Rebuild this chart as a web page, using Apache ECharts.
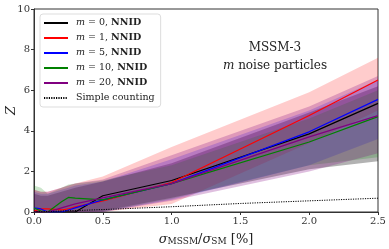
<!DOCTYPE html>
<html><head><meta charset="utf-8">
<script src="https://cdn.jsdelivr.net/npm/echarts@6/dist/echarts.min.js"></script>
<style>html,body{margin:0;padding:0;background:#fff}#c{width:389px;height:249px}</style>
</head><body><div id="c"></div>
<script>
// sigma_MSSM / sigma_SM [%]
const xs = [0, 0.05, 0.1, 0.2, 0.25, 0.3, 0.5, 1.0, 2.0, 2.5];
// central Z values
const zM0  = [0.05, 0.0, 0.0, 0.0, 0.0, 0.0, 0.8, 1.55, 3.85, 5.35];
const zM1  = [0.05, 0.15, 0.15, 0.1, 0.15, 0.25, 0.55, 1.45, 4.75, 6.5];
const zM5  = [0.2, 0.15, 0.0, 0.0, 0.1, 0.2, 0.6, 1.4, 3.95, 5.55];
const zM10 = [0.2, 0.05, 0.0, 0.5, 0.72, 0.68, 0.6, 1.4, 3.45, 4.7];
const zM20 = [0.0, 0.0, 0.0, 0.2, 0.3, 0.4, 0.7, 1.4, 3.7, 4.75];
// uncertainty bands
const loM0  = [0, 0, 0, 0, 0, 0, 0.05, 0.7, 2.1, 2.5];
const hiM0  = [0.9, 0.8, 0.8, 1.0, 1.1, 1.2, 1.5, 2.4, 4.9, 6.2];
const loM1  = [0, 0, 0, 0, 0, 0, 0, 0.4, 3.4, 5.0];
const hiM1  = [1.1, 1.0, 1.0, 1.2, 1.3, 1.4, 1.75, 3.2, 5.9, 7.6];
const loM5  = [0, 0, 0, 0, 0, 0, 0, 0.6, 2.3, 3.6];
const hiM5  = [1.0, 0.9, 0.9, 1.1, 1.2, 1.3, 1.5, 2.6, 5.0, 6.5];
const loM10 = [0, 0, 0, 0, 0, 0, 0, 0.65, 2.3, 2.7];
const hiM10 = [1.3, 1.2, 0.9, 1.2, 1.35, 1.4, 1.55, 2.3, 4.6, 6.0];
const loM20 = [0, 0, 0, 0, 0, 0, 0, 0.55, 2.0, 2.9];
const hiM20 = [1.1, 1.0, 1.0, 1.2, 1.3, 1.4, 1.6, 2.8, 5.2, 6.7];
// simple counting
const xsSimple = [0, 0.5, 1.0, 1.5, 2.0, 2.5];
const zSimple  = [0.0, 0.12, 0.26, 0.42, 0.55, 0.68];
const xTicks = ['0.0','0.5','1.0','1.5','2.0','2.5'];

const names = ['m = 0','m = 1','m = 5','m = 10','m = 20'];
const colors = ['#000000','#ff0000','#0000ff','#008000','#800080'];
const fills = ['rgba(0,0,0,0.3)','rgba(255,0,0,0.2)','rgba(0,0,255,0.2)','rgba(0,128,0,0.2)','rgba(128,0,128,0.25)'];
const mids = [zM0,zM1,zM5,zM10,zM20];
const los = [loM0,loM1,loM5,loM10,loM20];
const his = [hiM0,hiM1,hiM5,hiM10,hiM20];
const FONT = 'DejaVu Serif';

const series = [];
for (let k = 0; k < 5; k++) {
  const lo = los[k], hi = his[k];
  series.push({
    type: 'custom', silent: true, z: 1,
    data: xs.map((x,i) => [x, lo[i], hi[i]]),
    renderItem: function (params, api) {
      if (params.dataIndex !== 0) return null;
      const pts = [];
      for (let i = 0; i < xs.length; i++) pts.push(api.coord([xs[i], hi[i]]));
      for (let i = xs.length - 1; i >= 0; i--) pts.push(api.coord([xs[i], lo[i]]));
      return {type: 'polygon', shape: {points: pts}, style: {fill: fills[k]}};
    }
  });
}
for (let k = 0; k < 5; k++) {
  series.push({
    name: names[k], type: 'line', symbol: 'none', z: 5,
    data: xs.map((x,i) => [x, mids[k][i]]),
    lineStyle: {color: colors[k], width: 1.2}, itemStyle: {color: colors[k]}
  });
}
series.push({
  name: 'Simple counting', type: 'line', symbol: 'none', z: 5,
  data: xsSimple.map((x,i) => [x, zSimple[i]]),
  lineStyle: {color: '#000', width: 1, type: [1.2, 1.2]}, itemStyle: {color: '#000'}
});

const chart = echarts.init(document.getElementById('c'), null, {renderer: 'canvas'});
chart.setOption({
  animation: false,
  backgroundColor: '#fff',
  grid: {left: 34, right: 11, top: 9, bottom: 37, show: true, borderColor: '#333', borderWidth: 1,
    containLabel: false, outerBoundsMode: 'none'},
  xAxis: {
    type: 'value', min: 0, max: 2.5, interval: 0.5,
    axisLine: {lineStyle: {color: '#333'}},
    axisTick: {lineStyle: {color: '#333'}, length: 3},
    splitLine: {show: false},
    axisLabel: {fontFamily: FONT, fontSize: 10, color: '#333', margin: 4,
      formatter: v => xTicks[Math.round(v / 0.5)]},
    name: '{i|σ}{s|MSSM}{n|/}{i|σ}{s|SM}{n| [%]}', nameLocation: 'middle', nameGap: 16, nameMoveOverlap: false,
    nameTextStyle: {fontFamily: FONT, fontSize: 13, color: '#222',
      rich: {
        i: {fontFamily: FONT, fontSize: 13, fontStyle: 'italic', color: '#222', verticalAlign: 'bottom', lineHeight: 18},
        s: {fontFamily: FONT, fontSize: 9, color: '#222', verticalAlign: 'bottom', lineHeight: 12},
        n: {fontFamily: FONT, fontSize: 13, color: '#222', verticalAlign: 'bottom', lineHeight: 18}
      }}
  },
  yAxis: {
    type: 'value', min: 0, max: 10, interval: 2,
    axisLine: {show: true, lineStyle: {color: '#333'}},
    axisTick: {show: true, lineStyle: {color: '#333'}, length: 3},
    splitLine: {show: false},
    axisLabel: {fontFamily: FONT, fontSize: 10, color: '#333', margin: 4},
    name: 'Z', nameLocation: 'middle', nameGap: 16, nameRotate: 90, nameMoveOverlap: false,
    nameTextStyle: {fontFamily: FONT, fontSize: 13, fontStyle: 'italic', color: '#222'}
  },
  legend: {
    left: 40, top: 14, orient: 'vertical',
    data: names.concat(['Simple counting']),
    itemWidth: 24, itemHeight: 10, itemGap: 5,
    itemStyle: {opacity: 0},
    padding: [4, 6, 4, 3],
    backgroundColor: 'rgba(255,255,255,0.85)', borderColor: '#ddd', borderWidth: 1, borderRadius: 3,
    formatter: n => n.startsWith('m') ? '{i|m}{t|' + n.slice(1) + ', }{b|NNID}' : '{t|' + n + '}',
    textStyle: {fontFamily: FONT, fontSize: 9, color: '#222', padding: [0,0,0,3],
      rich: {
        i: {fontFamily: FONT, fontSize: 9.5, fontStyle: 'italic', color: '#222'},
        t: {fontFamily: FONT, fontSize: 9.5, color: '#222'},
        b: {fontFamily: FONT, fontSize: 9.5, fontWeight: 'bold', color: '#222'}
      }}
  },
  graphic: [
    {type: 'text', x: 275, y: 48, style: {text: 'MSSM-3', font: '12px "DejaVu Serif"', fill: '#222', align: 'center', verticalAlign: 'middle'}},
    {type: 'text', x: 275, y: 66, style: {text: '{i|m} noise particles', font: '12px "DejaVu Serif"', fill: '#222', align: 'center', verticalAlign: 'middle',
      rich: {i: {fontStyle: 'italic', font: 'italic 12px "DejaVu Serif"', fill: '#222'}}}}
  ],
  series: series
});
</script></body></html>
